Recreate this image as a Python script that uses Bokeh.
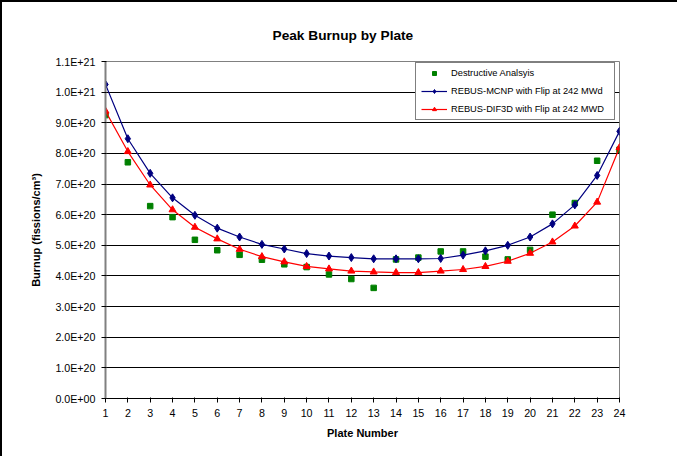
from bokeh.plotting import figure
from bokeh.models import (Range1d, FixedTicker, CustomJSTickFormatter, Legend, LegendItem, Title)
from bokeh.embed import file_html
from bokeh.resources import INLINE

# ---- data ----
plates = list(range(1, 25))
destructive = [9.25e20, 7.71e20, 6.28e20, 5.92e20, 5.18e20, 4.84e20, 4.69e20, 4.53e20,
               4.38e20, 4.29e20, 4.05e20, 3.90e20, 3.61e20, 4.54e20, 4.60e20, 4.80e20,
               4.80e20, 4.63e20, 4.54e20, 4.85e20, 6.00e20, 6.38e20, 7.76e20, 8.12e20]
rebus_mcnp = [10.25e20, 8.48e20, 7.35e20, 6.55e20, 5.98e20, 5.56e20, 5.27e20, 5.03e20,
              4.88e20, 4.73e20, 4.65e20, 4.60e20, 4.56e20, 4.56e20, 4.56e20, 4.57e20,
              4.68e20, 4.82e20, 5.00e20, 5.27e20, 5.70e20, 6.32e20, 7.28e20, 8.72e20]
rebus_dif3d = [9.38e20, 8.06e20, 6.97e20, 6.16e20, 5.59e20, 5.21e20, 4.87e20, 4.63e20,
               4.46e20, 4.31e20, 4.23e20, 4.16e20, 4.13e20, 4.11e20, 4.11e20, 4.16e20,
               4.21e20, 4.31e20, 4.48e20, 4.74e20, 5.11e20, 5.63e20, 6.41e20, 8.19e20]
y_ticks = [0, 1e20, 2e20, 3e20, 4e20, 5e20, 6e20, 7e20, 8e20, 9e20, 1e21, 1.1e21]
x_ticks = plates

title_text = "Peak Burnup by Plate"
x_label = "Plate Number"
y_label = "Burnup (fissions/cm³)"
names = ["Destructive Analsyis", "REBUS-MCNP with Flip at 242 MWd", "REBUS-DIF3D with Flip at 242 MWD"]

FONT = "Liberation Sans"

p = figure(width=677, height=456, output_backend="svg", toolbar_location=None,
           x_range=Range1d(1, 24), y_range=Range1d(0, 1.1e21),
           min_border_left=103, min_border_right=60, min_border_top=59, min_border_bottom=60)
p.styles = {"border-left": "2px solid black", "border-top": "2px solid black"}

p.title = Title(text=title_text, align="left", offset=167, text_font=FONT,
                text_font_size="13.7px", text_font_style="bold", text_color="black", standoff=37)

p.background_fill_color = "white"
p.border_fill_color = "white"
p.outline_line_color = "#808080"
p.outline_line_width = 1

# axes
p.xaxis.ticker = FixedTicker(ticks=x_ticks)
p.yaxis.ticker = FixedTicker(ticks=y_ticks)
p.yaxis.formatter = CustomJSTickFormatter(code="""
const s = tick.toExponential(1).toUpperCase();
const parts = s.split('E');
const e = parts[1];
let d = e.slice(1);
if (d.length < 2) { d = '0' + d; }
return parts[0] + 'E' + e[0] + d;
""")
for ax in (p.xaxis[0], p.yaxis[0]):
    ax.major_label_text_font = FONT
    ax.major_label_text_font_size = "10.7px"
    ax.major_label_text_color = "black"
    ax.axis_label_text_font = FONT
    ax.axis_label_text_font_size = "11px"
    ax.axis_label_text_font_style = "bold"
    ax.axis_label_text_color = "black"
    ax.minor_tick_line_color = None
    ax.major_tick_line_color = "black"
    ax.major_tick_out = 4
    ax.major_tick_in = 1
p.xaxis.axis_label = x_label
p.yaxis.axis_label = y_label
p.yaxis.axis_line_color = "#808080"
p.yaxis.axis_line_width = 2
p.xaxis.axis_line_color = "black"
p.xaxis.axis_line_width = 1
p.yaxis.major_label_standoff = 6
p.xaxis.major_label_standoff = 6
p.yaxis.axis_label_standoff = 10
p.xaxis.axis_label_standoff = 7

p.xgrid.grid_line_color = None
p.ygrid.grid_line_color = "black"
p.ygrid.grid_line_width = 1

# series
g = p.scatter(plates, destructive, marker="square", size=5.5, fill_color="#008000", line_color="#008000")
bl = p.line(plates, rebus_mcnp, line_color="#000080", line_width=1.2)
bm = p.scatter(plates, rebus_mcnp, marker="diamond", size=8, fill_color="#000080", line_color="#000080")
rl = p.line(plates, rebus_dif3d, line_color="#FF0000", line_width=1.2)
rm = p.scatter(plates, rebus_dif3d, marker="triangle", size=7, fill_color="#FF0000", line_color="#FF0000")

legend = Legend(items=[
    LegendItem(label=names[0], renderers=[g]),
    LegendItem(label=names[1], renderers=[bl, bm]),
    LegendItem(label=names[2], renderers=[rl, rm]),
], location=(310, 278))
legend.label_text_font = FONT
legend.label_text_font_size = "9.3px"
legend.label_text_color = "black"
legend.padding = 5
legend.margin = 0
legend.spacing = 8
legend.glyph_height = 10
legend.label_height = 10
legend.glyph_width = 26
legend.label_standoff = 4
legend.label_width = 158
legend.border_line_color = "black"
legend.border_line_width = 1
legend.background_fill_color = "white"
legend.background_fill_alpha = 1
p.add_layout(legend, "center")

open("out.html", "w").write(file_html(p, INLINE))
